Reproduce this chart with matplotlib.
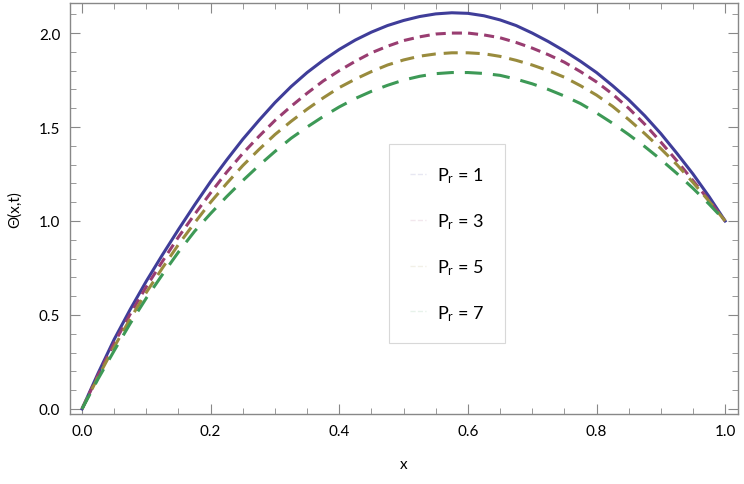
"""Temperature profiles Theta(x, t) for several Prandtl numbers."""
import matplotlib
matplotlib.use("Agg")
import matplotlib.pyplot as plt
from matplotlib.ticker import MultipleLocator

# values, x step 0.025
x = [0.0, 0.025, 0.05, 0.075, 0.1, 0.125, 0.15, 0.175, 0.2, 0.225,
     0.25, 0.275, 0.3, 0.325, 0.35, 0.375, 0.4, 0.425, 0.45, 0.475,
     0.5, 0.525, 0.55, 0.575, 0.6, 0.625, 0.65, 0.675, 0.7, 0.725,
     0.75, 0.775, 0.8, 0.825, 0.85, 0.875, 0.9, 0.925, 0.95, 0.975, 1.0]
theta_pr1 = [0.0, 0.19, 0.37, 0.53, 0.68, 0.82, 0.955, 1.085, 1.21, 1.325,
             1.435, 1.535, 1.63, 1.715, 1.79, 1.855, 1.913, 1.963, 2.005, 2.04,
             2.067, 2.088, 2.102, 2.108, 2.105, 2.092, 2.07, 2.04, 2.0, 1.955,
             1.905, 1.85, 1.79, 1.72, 1.645, 1.56, 1.465, 1.36, 1.25, 1.13, 1.0]
theta_pr3 = [0.0, 0.18, 0.35, 0.505, 0.65, 0.785, 0.915, 1.035, 1.15, 1.26,
             1.36, 1.45, 1.535, 1.61, 1.68, 1.745, 1.80, 1.85, 1.895, 1.93,
             1.96, 1.98, 1.995, 2.0, 2.0, 1.99, 1.975, 1.95, 1.92, 1.885,
             1.845, 1.795, 1.74, 1.675, 1.60, 1.515, 1.42, 1.32, 1.215, 1.11, 1.0]
theta_pr5 = [0.0, 0.17, 0.33, 0.48, 0.62, 0.75, 0.875, 0.99, 1.10, 1.20,
             1.295, 1.38, 1.46, 1.53, 1.595, 1.655, 1.71, 1.755, 1.795, 1.83,
             1.857, 1.877, 1.889, 1.895, 1.895, 1.89, 1.876, 1.855, 1.83, 1.80,
             1.765, 1.72, 1.67, 1.61, 1.54, 1.465, 1.385, 1.30, 1.205, 1.105, 1.0]
theta_pr7 = [0.0, 0.16, 0.31, 0.455, 0.59, 0.715, 0.835, 0.945, 1.04, 1.13,
             1.215, 1.295, 1.37, 1.44, 1.50, 1.556, 1.607, 1.652, 1.69, 1.722,
             1.75, 1.77, 1.784, 1.79, 1.79, 1.785, 1.775, 1.755, 1.73, 1.70,
             1.665, 1.625, 1.575, 1.52, 1.46, 1.396, 1.327, 1.253, 1.174, 1.09, 1.0]
labels = [r"$\mathrm{P_r}$ = 1", r"$\mathrm{P_r}$ = 3",
          r"$\mathrm{P_r}$ = 5", r"$\mathrm{P_r}$ = 7"]

COLORS = ["#3f3d99", "#993d71", "#998b3d", "#3d9956"]
DASHES = [None, (3.3, 2.0), (4.6, 2.6), (5.6, 3.6)]


def main():
    plt.rcParams["font.family"] = ["Lato", "DejaVu Sans"]
    plt.rcParams["mathtext.fontset"] = "custom"
    plt.rcParams["mathtext.rm"] = "Lato"
    plt.rcParams["mathtext.it"] = "Lato"

    fig = plt.figure(figsize=(7.44, 4.85), dpi=100)
    ax = fig.add_axes([70 / 744, 70 / 485, 668 / 744, 411 / 485])

    series = [theta_pr1, theta_pr3, theta_pr5, theta_pr7]
    for ys, col, dash in zip(series, COLORS, DASHES):
        line, = ax.plot(x, ys, color=col, linewidth=2.2)
        if dash is not None:
            line.set_dashes(dash)

    # legend handles in the reference are almost invisible
    handles = [plt.Line2D([], [], color=c, alpha=0.12, linewidth=1,
                          linestyle="--") for c in COLORS]
    leg = ax.legend(handles, labels, loc="center",
                    bbox_to_anchor=(0.565, 0.414), fontsize=13,
                    labelspacing=1.45, handlelength=0.9, handletextpad=0.6,
                    borderpad=1.15, fancybox=False, framealpha=1,
                    borderaxespad=0)
    leg.get_frame().set_edgecolor("#d8d8d8")
    leg.get_frame().set_linewidth(0.8)

    ax.set_xlim(-0.0187, 1.02)
    ax.set_ylim(-0.027, 2.16)
    ax.xaxis.set_major_locator(MultipleLocator(0.2))
    ax.xaxis.set_minor_locator(MultipleLocator(0.05))
    ax.yaxis.set_major_locator(MultipleLocator(0.5))
    ax.yaxis.set_minor_locator(MultipleLocator(0.1))
    ax.tick_params(which="both", direction="in", top=True, right=True,
                   color="#888888", labelsize=11, pad=7)
    ax.tick_params(which="major", length=7, width=0.8)
    ax.tick_params(which="minor", length=4, width=0.6)
    for sp in ax.spines.values():
        sp.set_color("#888888")
        sp.set_linewidth(1.0)

    ax.set_xlabel("x", fontsize=11, labelpad=14)
    ax.set_ylabel("Θ(x,t)", fontsize=11, labelpad=12)

    fig.savefig("out.png", dpi=100)


if __name__ == "__main__":
    main()
